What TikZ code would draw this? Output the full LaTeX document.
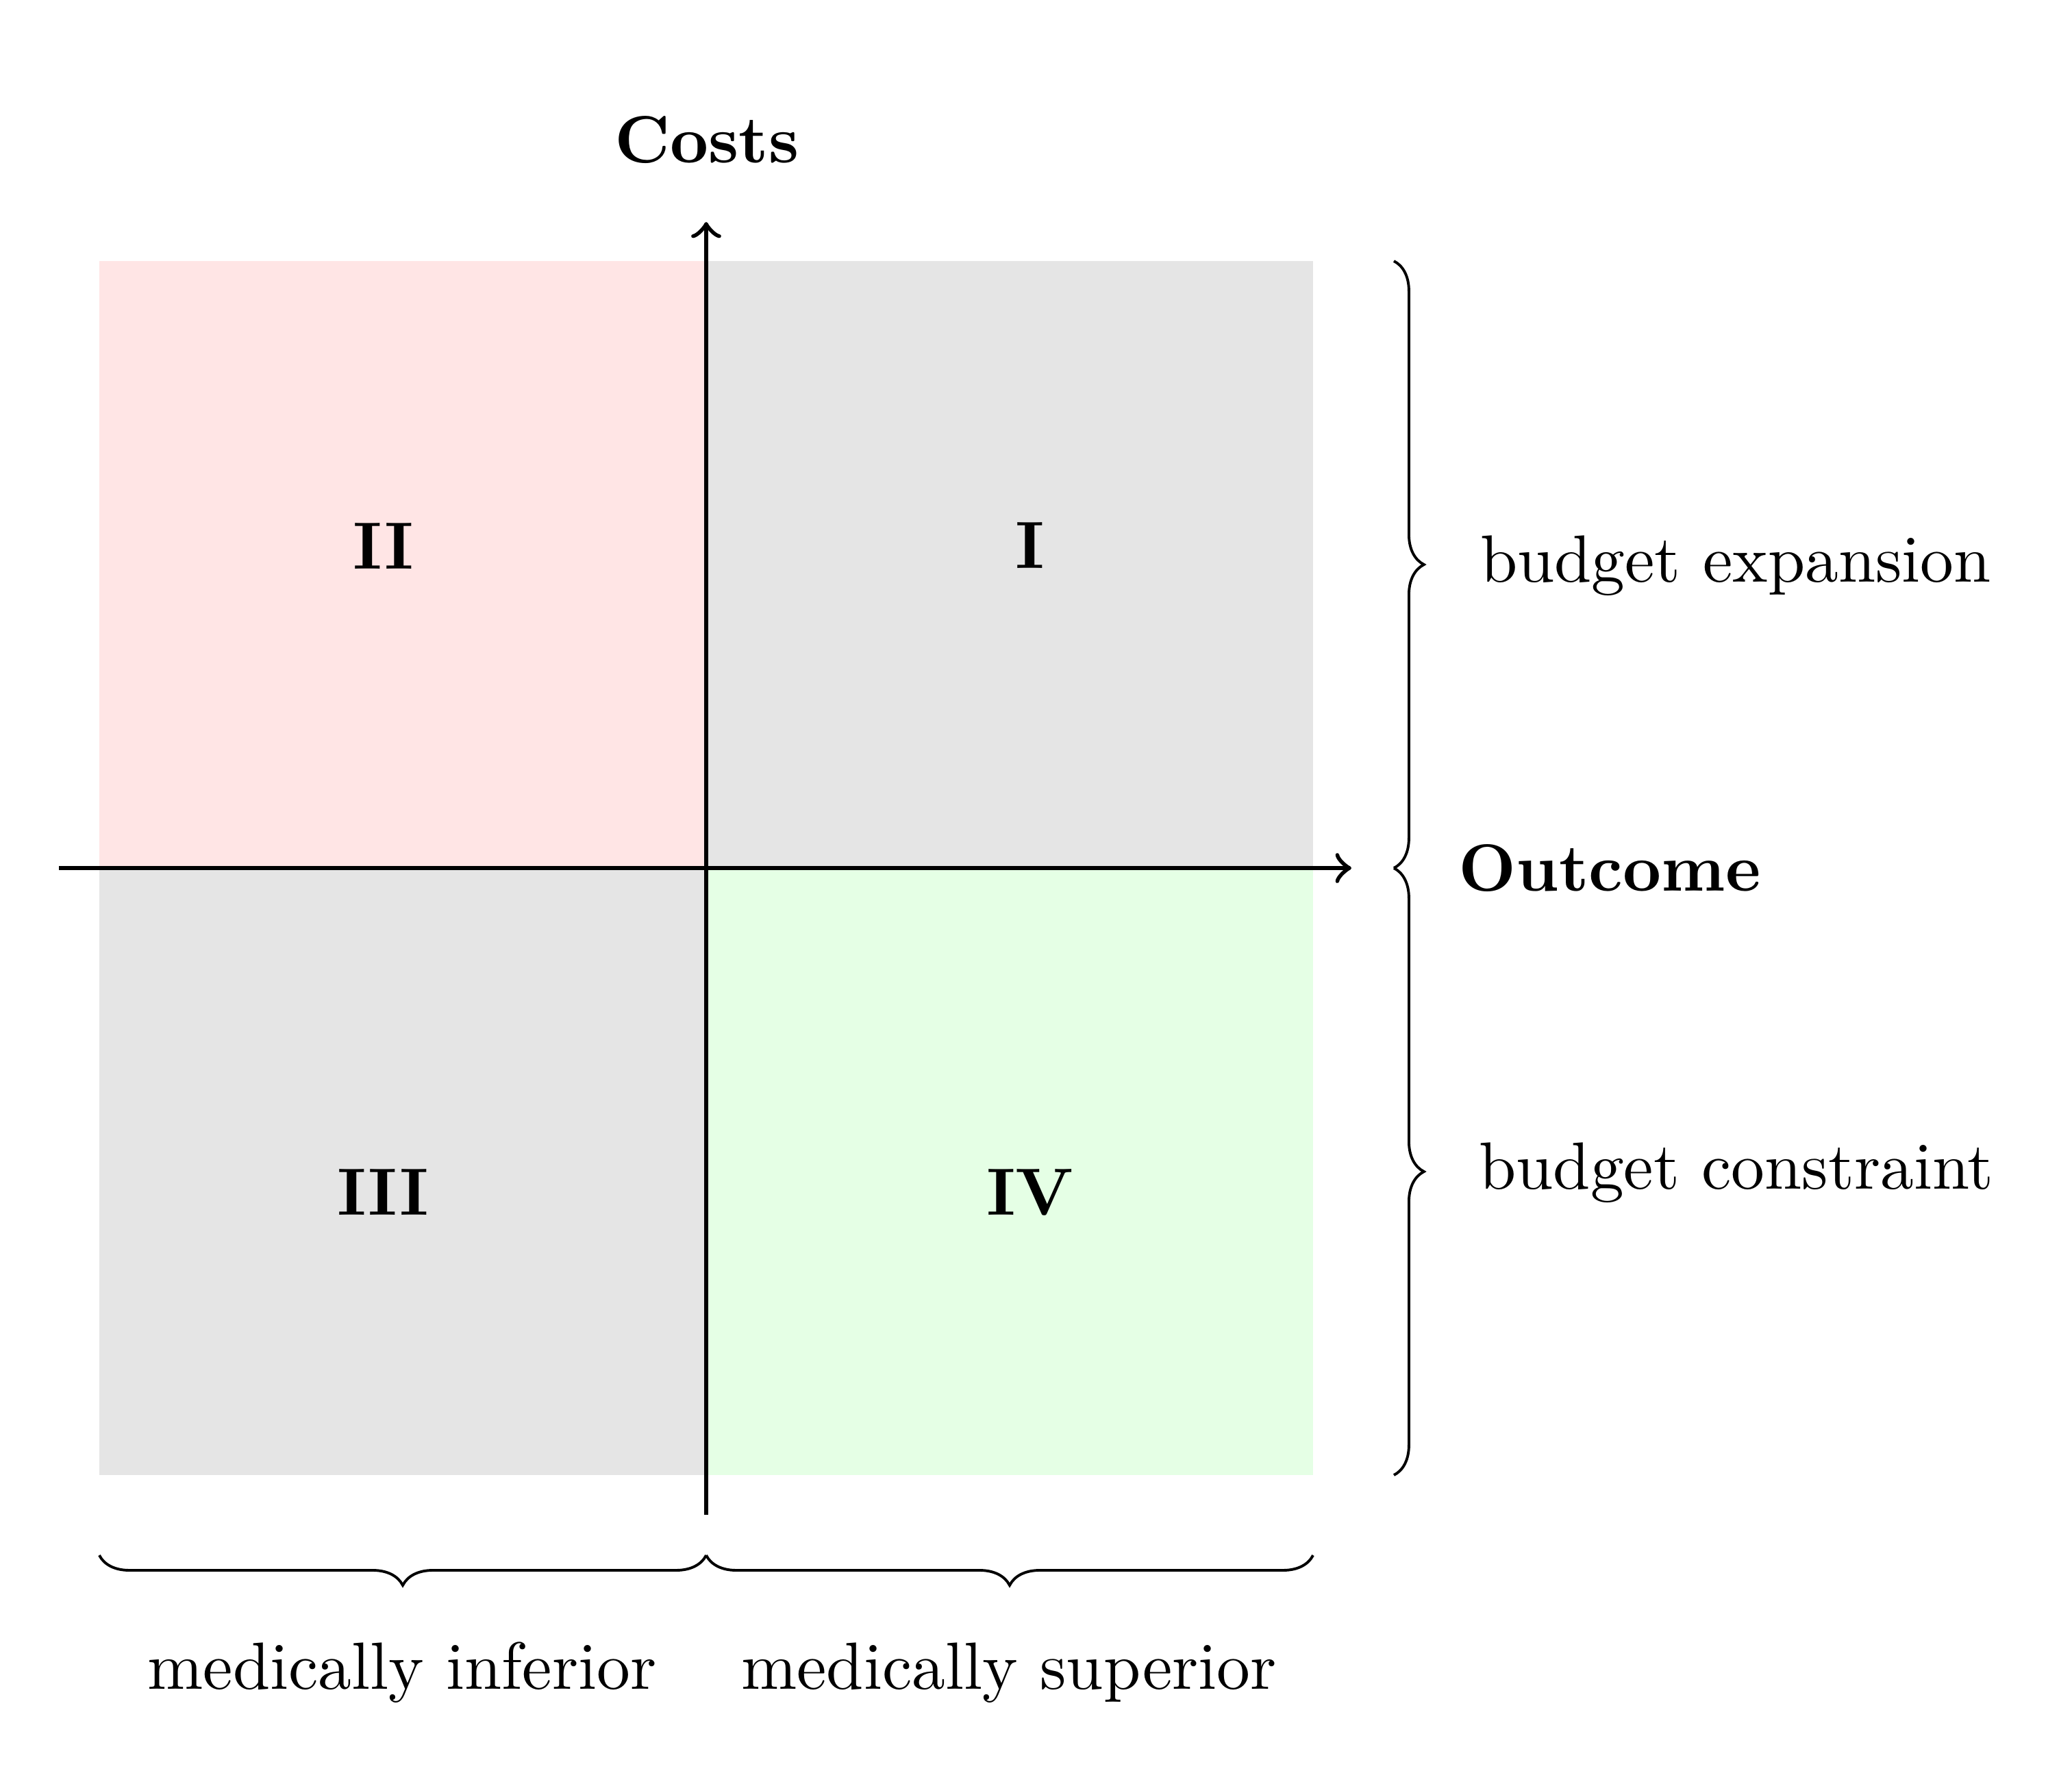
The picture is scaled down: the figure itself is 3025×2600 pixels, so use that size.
\documentclass[tikz,border=0pt]{standalone}
\usetikzlibrary{decorations.pathreplacing}
\begin{document}
\begin{tikzpicture}[x=0.10256pt,y=-0.10256pt]
\tikzset{
  axisline/.style={line width=0.7pt,->},
  bracedeco/.style={decorate,decoration={brace,amplitude=4.5pt}},
  bracemirror/.style={decorate,decoration={brace,mirror,amplitude=4.5pt}},
  quadlabel/.style={font=\bfseries,inner sep=0pt,anchor=base},
  sidelabel/.style={inner sep=0pt,anchor=base},
}
\useasboundingbox (0,0) rectangle (3025,2600);
% quadrants
\coordinate (O) at (1031,1267);
\coordinate (TL) at (145,381);
\coordinate (BR) at (1917,2153);
\fill[red!10] (TL) rectangle (O);
\fill[black!10] (1031,381) rectangle (1917,1267);
\fill[black!10] (145,1267) rectangle (1031,2153);
\fill[green!10] (O) rectangle (BR);
% axes
\coordinate (xs) at (86,1267);
\coordinate (xe) at (1973,1267);
\coordinate (ys) at (1031,2211);
\coordinate (ye) at (1031,324);
\draw[axisline] (xs) -- (xe);
\draw[axisline] (ys) -- (ye);
% labels
\node[quadlabel] (q1) at (1504,829) {I};
\node[quadlabel] (q2) at (560,830) {II};
\node[quadlabel] (q3) at (559,1773) {III};
\node[quadlabel] (q4) at (1504,1773) {IV};
\node[quadlabel] (costs) at (1032,237) {Costs};
\node[quadlabel] (outcome) at (2350,1300) {Outcome};
\node[sidelabel] (bexp) at (2534,849) {budget expansion};
\node[sidelabel] (bcon) at (2535,1735) {budget constraint};
\node[sidelabel] (minf) at (587,2465) {medically inferior};
\node[sidelabel] (msup) at (1473,2465) {medically superior};
% braces
\coordinate (br1) at (2035,381);
\coordinate (br2) at (2035,1267);
\coordinate (br3) at (2035,2153);
\coordinate (bb1) at (145,2270);
\coordinate (bb2) at (1031,2270);
\coordinate (bb3) at (1917,2270);
\draw[bracedeco] (br1) -- (br2);
\draw[bracedeco] (br2) -- (br3);
\draw[bracemirror] (bb1) -- (bb2);
\draw[bracemirror] (bb2) -- (bb3);
\end{tikzpicture}
\end{document}
